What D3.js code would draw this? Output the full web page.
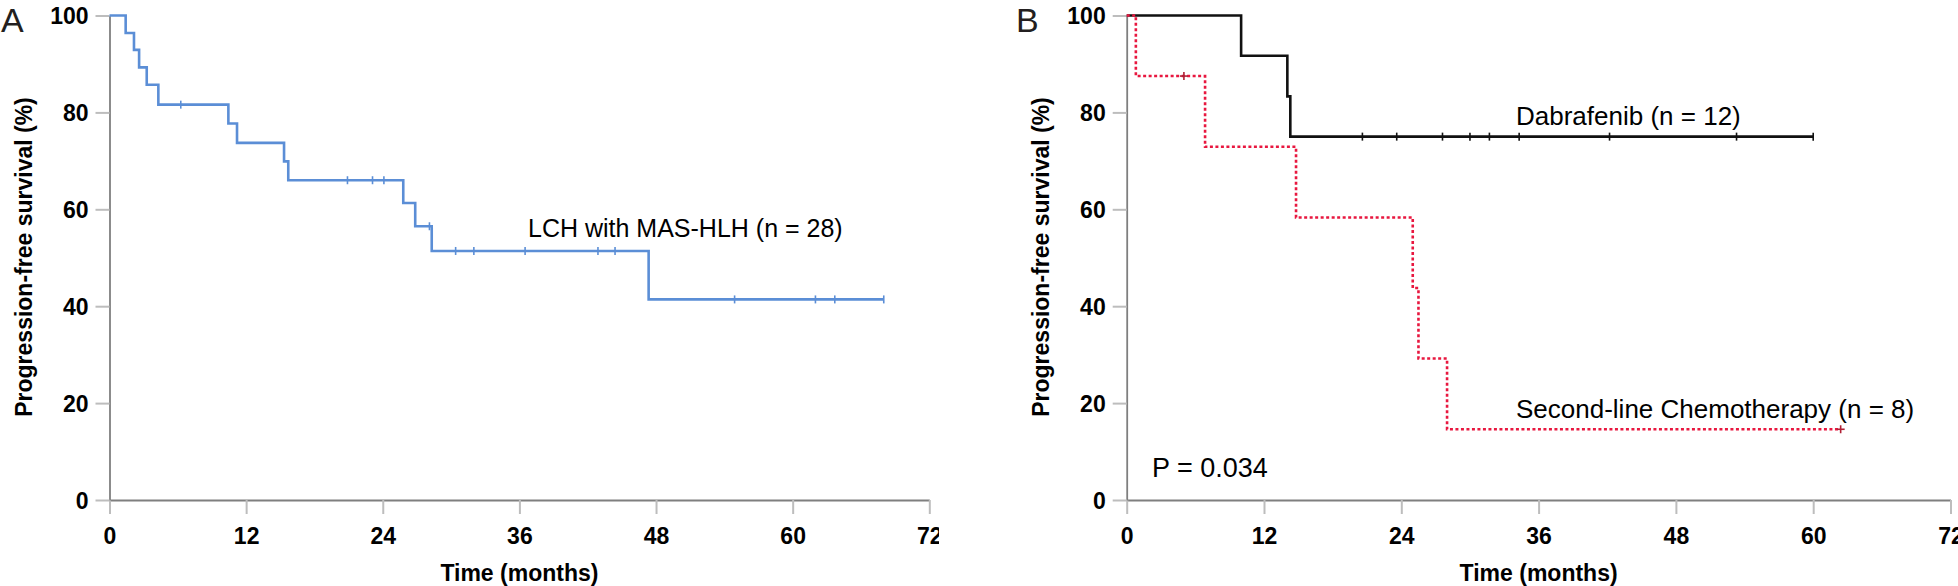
<!DOCTYPE html>
<html><head><meta charset="utf-8">
<script src="https://cdn.jsdelivr.net/npm/d3@7"></script>
<style>
html,body{margin:0;padding:0;background:#fff;}
svg{display:block;font-family:"Liberation Sans",Arial,sans-serif;}
.tick text{font-weight:bold;font-size:23px;fill:#000;}
</style></head>
<body>
<svg id="chart" width="1958" height="586"></svg>
<script>
// ---------- data ----------
const xTicks = [0, 12, 24, 36, 48, 60, 72];
const yTicks = [0, 20, 40, 60, 80, 100];

// Panel A: LCH with MAS-HLH (n = 28)
const eventTimesA = [1.42, 2.15, 2.6, 3.27, 4.29, 10.44, 11.2, 15.33, 15.7, 25.8, 26.85, 28.3, 47.35];
const survA       = [96.4, 92.9, 89.3, 85.7, 81.6, 77.7, 73.7, 69.9, 66.0, 61.3, 56.5, 51.4, 41.4];
const censorA     = [6.26, 20.9, 23.1, 24.1, 28.1, 30.4, 32.0, 36.5, 42.9, 44.4, 54.9, 62.0, 63.7, 68.0];
const endA = 68.0;

// Panel B: Dabrafenib (n = 12)
const eventTimesDab = [10.0, 14.04, 14.3];
const survDab       = [91.7, 83.3, 75.0];
const censorDab     = [20.6, 23.6, 27.6, 30.0, 31.7, 34.3, 42.2, 53.3, 60.0];
const endDab = 60.0;

// Panel B: Second-line Chemotherapy (n = 8)
const eventTimesChemo = [0.8, 6.85, 14.8, 25.0, 25.5, 28.0];
const survChemo       = [87.5, 72.9, 58.3, 43.75, 29.2, 14.6];
const censorChemo     = [5.0, 62.4];
const endChemo = 62.4;

const labelsA = ["LCH with MAS-HLH (n = 28)"];
const labelsB = ["Dabrafenib (n = 12)", "Second-line Chemotherapy (n = 8)", "P = 0.034"];

// ---------- drawing ----------
const svg = d3.select("#chart");
const defs = svg.append("defs");
defs.append("clipPath").attr("id","clipA").append("rect")
  .attr("x",0).attr("y",0).attr("width",939).attr("height",586);

function kmPoints(times, surv, end){
  const pts = [[0,100]];
  times.forEach((t,i)=>pts.push([t,surv[i]]));
  pts.push([end, surv[surv.length-1]]);
  return pts;
}
function survAt(times, surv, t){
  let s = 100;
  times.forEach((tt,i)=>{ if (tt <= t) s = surv[i]; });
  return s;
}

function drawPanel(opts){
  const g = svg.append("g");
  const gc = g.append("g");
  if (opts.clip) gc.attr("clip-path", `url(#${opts.clip})`);
  const x = d3.scaleLinear().domain([0,72]).range([opts.x0, opts.x1]);
  const y = d3.scaleLinear().domain([0,100]).range([500, 15.5]);

  // x axis
  const xa = gc.append("g").attr("transform","translate(0,500)")
    .call(d3.axisBottom(x).tickValues(xTicks).tickSize(14).tickPadding(10).tickSizeOuter(0));
  xa.select(".domain").attr("stroke","#7f7f7f").attr("stroke-width",1.8);
  xa.selectAll(".tick line").attr("stroke","#bdbdbd").attr("stroke-width",2);
  xa.selectAll(".tick text").attr("dy","0.85em");

  // y axis
  const ya = g.append("g").attr("transform",`translate(${opts.x0},0)`)
    .call(d3.axisLeft(y).tickValues(yTicks).tickSize(14).tickPadding(7).tickSizeOuter(0));
  ya.select(".domain").attr("stroke","#7f7f7f").attr("stroke-width",1.8);
  ya.selectAll(".tick line").attr("stroke","#bdbdbd").attr("stroke-width",2);
  ya.selectAll(".tick text").attr("dy","0.36em");

  // axis titles
  g.append("text").attr("x", x(36)).attr("y", 581).attr("text-anchor","middle")
    .attr("font-weight","bold").attr("font-size",23).text("Time (months)");
  g.append("text").attr("transform",`translate(${opts.x0-86},257) rotate(-90)`)
    .attr("text-anchor","middle").attr("dy","0.35em")
    .attr("font-weight","bold").attr("font-size",23).text("Progression-free survival (%)");

  // panel letter
  g.append("text").attr("x", opts.letterX).attr("y", 32).attr("font-size",34)
    .attr("fill","#231f20").text(opts.letter);

  const line = d3.line().x(d=>x(d[0])).y(d=>y(d[1])).curve(d3.curveStepAfter);

  opts.series.forEach(s=>{
    const pts = kmPoints(s.times, s.surv, s.end);
    g.append("path").datum(pts).attr("d", line).attr("fill","none")
      .attr("stroke", s.color).attr("stroke-width", s.width)
      .attr("stroke-dasharray", s.dash || null);
    s.censor.forEach(t=>{
      const cx = x(t), cy = y(survAt(s.times, s.surv, t));
      g.append("line").attr("x1",cx).attr("x2",cx).attr("y1",cy-4).attr("y2",cy+4)
        .attr("stroke", s.censorColor || s.color).attr("stroke-width",1.6);
      if (s.plus){
        g.append("line").attr("x1",cx-4).attr("x2",cx+4).attr("y1",cy).attr("y2",cy)
          .attr("stroke", s.censorColor || s.color).attr("stroke-width",1.6);
      }
    });
  });

  opts.labels.forEach(l=>{
    g.append("text").attr("x", l.x).attr("y", l.y).attr("font-size", l.size)
      .attr("fill","#000").text(l.text);
  });
}

drawPanel({
  x0:109.5, x1:929.3, letter:"A", letterX:1, clip:"clipA",
  series:[{times:eventTimesA, surv:survA, end:endA, censor:censorA, color:"#5b8ed6", width:2.6}],
  labels:[{text:labelsA[0], x:528, y:237, size:25}]
});
drawPanel({
  x0:1126.7, x1:1950.5, letter:"B", letterX:1016,
  series:[
    {times:eventTimesDab, surv:survDab, end:endDab, censor:censorDab, color:"#111", width:2.6},
    {times:eventTimesChemo, surv:survChemo, end:endChemo, censor:censorChemo, color:"#e8173f", width:2.6, dash:"3,2.5", censorColor:"#b02035", plus:true}
  ],
  labels:[
    {text:labelsB[0], x:1516, y:125, size:26},
    {text:labelsB[1], x:1516, y:418, size:26},
    {text:labelsB[2], x:1152, y:477, size:27}
  ]
});
</script>
</body></html>
